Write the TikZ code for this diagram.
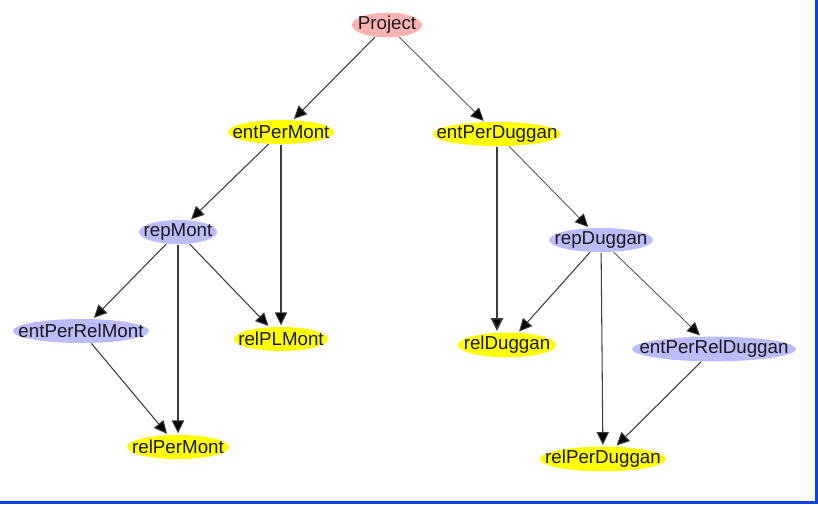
\documentclass[tikz,border=0pt]{standalone}
\usepackage{fontspec}
\setmainfont{Liberation Sans}
\usetikzlibrary{shapes.geometric,arrows.meta}

\definecolor{projpink}{RGB}{255,178,178}
\definecolor{nodeyellow}{RGB}{255,255,0}
\definecolor{nodelav}{RGB}{187,187,255}
\definecolor{edgegray}{RGB}{60,60,60}
\definecolor{frameblue}{RGB}{16,66,226}

\newcommand{\px}{0.03cm}
\newcommand{\nm}[1]{\makebox[0pt]{#1}}

\begin{document}
\begin{tikzpicture}[->,>={Triangle[length=11pt,width=10.5pt,fill=black]},shorten >=1pt,
    x=\px,y=-\px,line width=0.9pt,draw=edgegray,
    every node/.style={ellipse,inner sep=0pt,minimum height=24*\px,
      font=\fontsize{16}{18}\selectfont,text=black!90},
    proj/.style={fill=projpink,minimum width=#1*\px},
    yel/.style={fill=nodeyellow,minimum width=#1*\px},
    lav/.style={fill=nodelav,minimum width=#1*\px}]

  \useasboundingbox (0,0) rectangle (818,504);
  \fill[frameblue] (815,0) rectangle (818,504);
  \fill[frameblue] (0,501) rectangle (818,504);

  \node[proj=70]  (proj)       at (387,25)  {\nm{Project}};
  \node[yel=106]  (entMont)    at (281,132) {\nm{entPerMont}};
  \node[yel=128]  (entDug)     at (497,134) {\nm{entPerDuggan}};
  \node[lav=78]   (repMont)    at (178,232) {\nm{repMont}};
  \node[lav=104]  (repDug)     at (601,240) {\nm{repDuggan}};
  \node[lav=136]  (entRelMont) at (81,331)  {\nm{entPerRelMont}};
  \node[yel=94]   (relPLMont)  at (281,339) {\nm{relPLMont}};
  \node[yel=98]   (relDug)     at (507,345) {\nm{relDuggan}};
  \node[lav=164]  (entRelDug)  at (714,349) {\nm{entPerRelDuggan}};
  \node[yel=102]  (relPerMont) at (178,447) {\nm{relPerMont}};
  \node[yel=126]  (relPerDug)  at (603,459) {\nm{relPerDuggan}};

  \path (proj) edge (entMont)
               edge[line width=0.6pt] (entDug);
  \path (entMont) edge (repMont)
                  edge (relPLMont);
  \path (repMont) edge (entRelMont)
                  edge (relPLMont)
                  edge (relPerMont);
  \path (entRelMont) edge (relPerMont);
  \path (entDug) edge[line width=0.6pt] (repDug)
                 edge[line width=1.3pt] (relDug.north -| entDug.south);
  \path (repDug) edge (relDug)
                 edge (relPerDug)
                 edge[line width=0.6pt] (entRelDug);
  \path (entRelDug) edge (relPerDug);
\end{tikzpicture}
\end{document}
